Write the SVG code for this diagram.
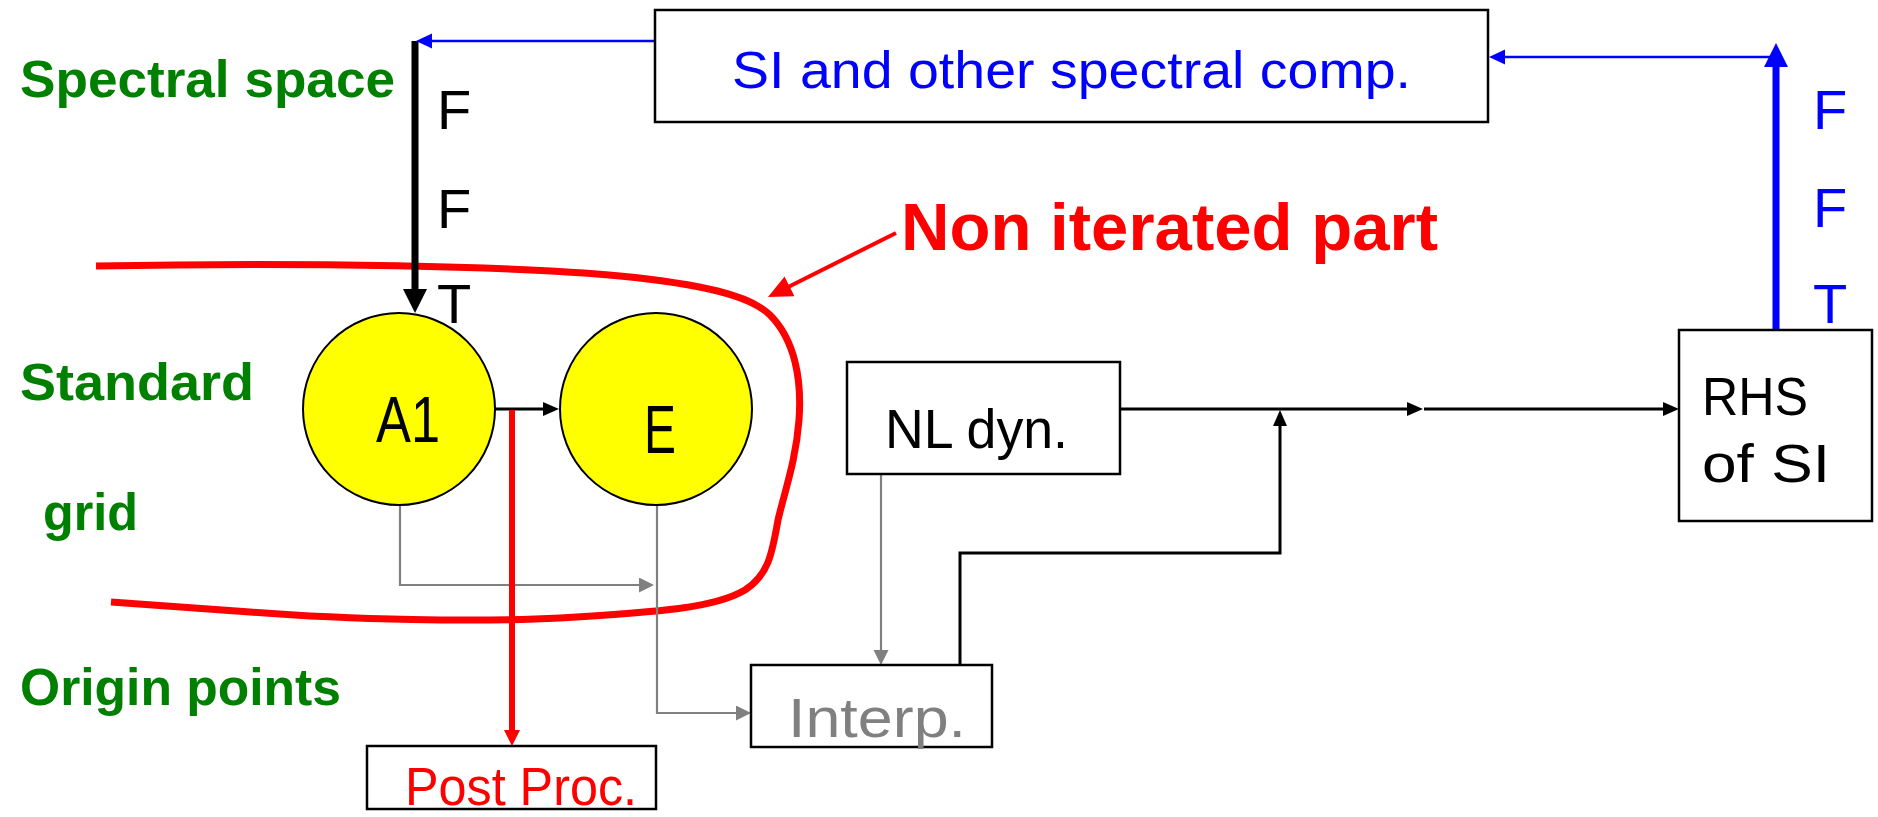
<svg xmlns="http://www.w3.org/2000/svg" width="1878" height="817" viewBox="0 0 1878 817">
<style>
.box{fill:#fff;stroke:#000;stroke-width:2.5}
.circ{fill:#ffff00;stroke:#000;stroke-width:2}
.t{font-family:"Liberation Sans",Arial,sans-serif}
.green{fill:#008000;font-weight:bold;font-size:52px}
.ln{fill:none;stroke-linejoin:miter}
.blk{stroke:#000;stroke-width:3}
.blkThick{stroke:#000;stroke-width:7}
.bluThick{stroke:#0000ff;stroke-width:7}
.gry{stroke:#808080;stroke-width:2.2}
.blu{stroke:#0000ff;stroke-width:2.6}
.redCurve{stroke:#ff0000;stroke-width:7}
.redLine{stroke:#ff0000;stroke-width:6}
.redPtr{stroke:#ff0000;stroke-width:4}
</style>
<defs>
<marker id="mBlk" markerUnits="userSpaceOnUse" markerWidth="18" markerHeight="16" refX="2" refY="7" orient="auto"><path d="M0,0 L16,7 L0,14 z" fill="#000"/></marker>
<marker id="mBlkBig" markerUnits="userSpaceOnUse" markerWidth="26" markerHeight="26" refX="2" refY="12" orient="auto"><path d="M0,0 L24,12 L0,24 z" fill="#000"/></marker>
<marker id="mGry" markerUnits="userSpaceOnUse" markerWidth="17" markerHeight="17" refX="2" refY="7.5" orient="auto"><path d="M0,0 L15,7.5 L0,15 z" fill="#808080"/></marker>
<marker id="mBlu" markerUnits="userSpaceOnUse" markerWidth="18" markerHeight="17" refX="2" refY="7.5" orient="auto"><path d="M0,0 L16,7.5 L0,15 z" fill="#0000ff"/></marker>
<marker id="mBluBig" markerUnits="userSpaceOnUse" markerWidth="26" markerHeight="26" refX="2" refY="12" orient="auto"><path d="M0,0 L24,12 L0,24 z" fill="#0000ff"/></marker>
<marker id="mRed" markerUnits="userSpaceOnUse" markerWidth="18" markerHeight="18" refX="2" refY="8" orient="auto"><path d="M0,0 L16,8 L0,16 z" fill="#ff0000"/></marker>
<marker id="mRedBig" markerUnits="userSpaceOnUse" markerWidth="26" markerHeight="24" refX="2" refY="11" orient="auto"><path d="M0,0 L24,11 L0,22 z" fill="#ff0000"/></marker>
</defs>
<rect width="1878" height="817" fill="#fff"/>

<g id="labels" class="t">
<text class="green" x="20" y="97" textLength="375" lengthAdjust="spacingAndGlyphs">Spectral space</text>
<text class="green" x="20" y="400" textLength="234" lengthAdjust="spacingAndGlyphs">Standard</text>
<text class="green" x="43" y="530" textLength="95" lengthAdjust="spacingAndGlyphs">grid</text>
<text class="green" x="20" y="705" textLength="321" lengthAdjust="spacingAndGlyphs">Origin points</text>
<text x="437" y="129" font-size="56" fill="#000">F</text>
<text x="437" y="228" font-size="56" fill="#000">F</text>
<text x="437" y="323" font-size="56" fill="#000">T</text>
<text x="1813" y="129" font-size="56" fill="#0000ff">F</text>
<text x="1813" y="227" font-size="56" fill="#0000ff">F</text>
<text x="1813" y="323" font-size="56" fill="#0000ff">T</text>
<text x="901" y="250" font-size="66" font-weight="bold" fill="#ff0000" textLength="537" lengthAdjust="spacingAndGlyphs">Non iterated part</text>
</g>

<g id="region">
<path class="ln redCurve" d="M96,266 C300,262 520,266 620,276 C700,284 750,295 770,315 C795,340 802,380 799,420 C796,460 785,490 778,520 C772,555 768,575 745,590 C715,608 660,612 560,618 C480,622 350,620 250,612 C180,607 140,604 111,602"/>
</g>

<g id="connectors">
<path class="ln blkThick" d="M415,41 V291" marker-end="url(#mBlkBig)"/>
<path class="ln blu" d="M655,41 H430" marker-end="url(#mBlu)"/>
<path class="ln bluThick" d="M1776,330 V65" marker-end="url(#mBluBig)"/>
<path class="ln blu" d="M1776,57 H1503" marker-end="url(#mBlu)"/>
<path class="ln blk" d="M495,409 H545" marker-end="url(#mBlk)"/>
<path class="ln blk" d="M1120,409 H1409" marker-end="url(#mBlk)"/>
<path class="ln blk" d="M1424,409 H1665" marker-end="url(#mBlk)"/>
<path class="ln blk" d="M960,665 V553 H1280 V424" marker-end="url(#mBlk)"/>
<path class="ln gry" d="M400,505 V585 H641" marker-end="url(#mGry)"/>
<path class="ln gry" d="M657,505 V713 H738" marker-end="url(#mGry)"/>
<path class="ln gry" d="M881,474 V652" marker-end="url(#mGry)"/>
<path class="ln redLine" d="M512,410 V732" marker-end="url(#mRed)"/>
<path class="ln redPtr" d="M896,233 L787.7,287.2" marker-end="url(#mRedBig)"/>
</g>

<g id="node-si">
<rect class="box" x="655" y="10" width="833" height="112"/>
<text class="t" x="732" y="88" font-size="52" fill="#0000ff" textLength="679" lengthAdjust="spacingAndGlyphs">SI and other spectral comp.</text>
</g>
<g id="node-a1">
<circle class="circ" cx="399" cy="409" r="96"/>
<text class="t" x="376" y="442" font-size="64" fill="#000" textLength="64" lengthAdjust="spacingAndGlyphs">A1</text>
</g>
<g id="node-e">
<circle class="circ" cx="656" cy="409" r="96"/>
<text class="t" x="644" y="453" font-size="68" fill="#000" textLength="32" lengthAdjust="spacingAndGlyphs">E</text>
</g>
<g id="node-nl">
<rect class="box" x="847" y="362" width="273" height="112"/>
<text class="t" x="885" y="448" font-size="56" fill="#000" textLength="183" lengthAdjust="spacingAndGlyphs">NL dyn.</text>
</g>
<g id="node-interp">
<rect class="box" x="751" y="665" width="241" height="82"/>
<text class="t" x="788" y="737" font-size="56" fill="#808080" textLength="178" lengthAdjust="spacingAndGlyphs">Interp.</text>
</g>
<g id="node-rhs">
<rect class="box" x="1679" y="330" width="193" height="191"/>
<text class="t" x="1702" y="415" font-size="53" fill="#000" textLength="106" lengthAdjust="spacingAndGlyphs">RHS</text>
<text class="t" x="1702" y="482" font-size="53" fill="#000" textLength="128" lengthAdjust="spacingAndGlyphs">of SI</text>
</g>
<g id="node-post">
<rect class="box" x="367" y="746" width="289" height="63"/>
<text class="t" x="405" y="805" font-size="54" fill="#ff0000" textLength="232" lengthAdjust="spacingAndGlyphs">Post Proc.</text>
</g>
</svg>
